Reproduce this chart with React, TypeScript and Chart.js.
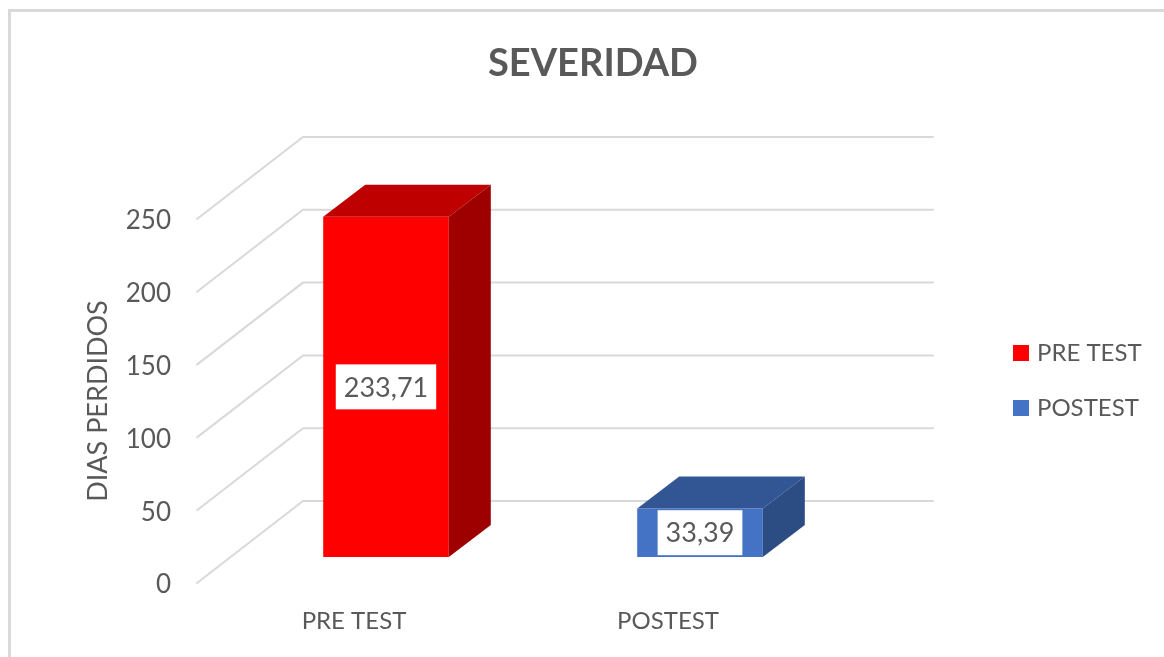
import React, { useEffect, useRef } from "react";
import { Chart, registerables } from "chart.js";

Chart.register(...registerables);

const categories = ["PRE TEST", "POSTEST"];
const seriesName = "SEVERIDAD";
const values = [233.71, 33.39];
const valueLabels = ["233,71", "33,39"];
const frontColors = ["#FF0000", "#4472C4"];
const topColors = ["#BF0000", "#325694"];
const sideColors = ["#9E0000", "#2C4C84"];

const FONT = "Lato, 'Open Sans', sans-serif";
const TEXT = "#595959";
const GRID = "#D9D9D9";
const WALL_DX = 106;
const WALL_DY = 82;
const BAR_SHIFT_X = 32;
const BAR_SHIFT_Y = -26;
const BAR_DX = 42;
const BAR_DY = 32;

const threeD = {
  id: "threeD",
  beforeLayout(chart: any) {
    const legend = chart.legend;
    if (legend && !legend.__wrapped) {
      const fit = legend.fit;
      legend.fit = function () {
        fit.call(this);
        this.width = 339;
      };
      legend.__wrapped = true;
    }
  },
  afterLayout(chart: any) {
    const legend = chart.legend;
    legend.left = 986;
    legend.right = 1164;
    legend.top = 310;
    legend.bottom = 640;
    const title = chart.titleBlock;
    title.left += 22;
  },
  beforeDraw(chart: any) {
    const { ctx } = chart;
    ctx.save();
    ctx.fillStyle = "#FFFFFF";
    ctx.fillRect(0, 0, chart.width, chart.height);
    ctx.strokeStyle = GRID;
    ctx.lineWidth = 3;
    ctx.beginPath();
    ctx.moveTo(9.5, chart.height);
    ctx.lineTo(9.5, 10.5);
    ctx.lineTo(chart.width, 10.5);
    ctx.stroke();
    ctx.restore();
  },
  beforeDatasetsDraw(chart: any) {
    const { ctx, chartArea, scales } = chart;
    ctx.save();
    ctx.strokeStyle = GRID;
    ctx.lineWidth = 2;
    ctx.lineCap = "round";
    for (const t of scales.y.ticks) {
      const y = scales.y.getPixelForValue(t.value);
      ctx.beginPath();
      ctx.moveTo(chartArea.left, y);
      ctx.lineTo(chartArea.left + WALL_DX, y - WALL_DY);
      ctx.lineTo(chartArea.right + WALL_DX + 2, y - WALL_DY);
      ctx.stroke();
    }
    ctx.restore();
    ctx.save();
    ctx.translate(BAR_SHIFT_X, BAR_SHIFT_Y);
  },
  afterDatasetsDraw(chart: any) {
    const { ctx } = chart;
    ctx.restore();
    const bars = chart.getDatasetMeta(0).data;
    bars.forEach((bar: any, i: number) => {
      const p = bar.getProps(["x", "y", "base", "width"], true);
      const l = p.x - p.width / 2 + BAR_SHIFT_X;
      const r = p.x + p.width / 2 + BAR_SHIFT_X;
      const t = p.y + BAR_SHIFT_Y;
      const b = p.base + BAR_SHIFT_Y;
      ctx.save();
      ctx.fillStyle = topColors[i];
      ctx.beginPath();
      ctx.moveTo(l, t);
      ctx.lineTo(l + BAR_DX, t - BAR_DY);
      ctx.lineTo(r + BAR_DX, t - BAR_DY);
      ctx.lineTo(r, t);
      ctx.closePath();
      ctx.fill();
      ctx.fillStyle = sideColors[i];
      ctx.beginPath();
      ctx.moveTo(r, t);
      ctx.lineTo(r + BAR_DX, t - BAR_DY);
      ctx.lineTo(r + BAR_DX, b - BAR_DY);
      ctx.lineTo(r, b);
      ctx.closePath();
      ctx.fill();

      ctx.font = `27px ${FONT}`;
      const label = valueLabels[i];
      const w = ctx.measureText(label).width + 16;
      const h = 45;
      const cx = (l + r) / 2;
      const cy = (t + b) / 2;
      ctx.fillStyle = "#FFFFFF";
      ctx.fillRect(cx - w / 2, cy - h / 2, w, h);
      ctx.fillStyle = TEXT;
      ctx.textAlign = "center";
      ctx.textBaseline = "middle";
      ctx.fillText(label, cx, cy + 1);
      ctx.restore();
    });
  },
};

export default function App() {
  const ref = useRef<HTMLCanvasElement>(null);
  useEffect(() => {
    const chart = new Chart(ref.current as HTMLCanvasElement, {
      type: "bar",
      data: {
        labels: categories,
        datasets: [
          {
            label: seriesName,
            data: values,
            backgroundColor: frontColors,
            barPercentage: 0.4,
            categoryPercentage: 1,
            clip: false,
          } as any,
        ],
      },
      plugins: [threeD as any],
      options: {
        animation: false,
        responsive: false,
        layout: { padding: 0 },
        plugins: {
          tooltip: { enabled: false },
          title: {
            display: true,
            text: "SEVERIDAD",
            color: TEXT,
            font: { family: FONT, size: 38, weight: "bold" },
            padding: { top: 41.2, bottom: 132.2 },
          },
          legend: {
            display: true,
            position: "right",
            align: "start",
            labels: {
              color: TEXT,
              font: { family: FONT, size: 24 },
              usePointStyle: true,
              boxWidth: 8,
              boxHeight: 16,
              padding: 31,
              generateLabels: () =>
                categories.map((c, i) => ({
                  text: c,
                  fillStyle: frontColors[i],
                  strokeStyle: frontColors[i],
                  fontColor: TEXT,
                  pointStyle: "rect",
                  lineWidth: 0,
                  hidden: false,
                  index: i,
                })),
            },
          },
        },
        scales: {
          x: {
            grid: { display: false },
            border: { display: false },
            afterFit: (s: any) => {
              s.height = 74;
            },
            ticks: {
              color: TEXT,
              padding: 16,
              maxRotation: 0,
              font: { family: FONT, size: 24 },
            },
          },
          y: {
            min: 0,
            max: 250,
            grid: { display: false },
            border: { display: false },
            afterFit: (s: any) => {
              s.width = 197;
            },
            ticks: {
              color: TEXT,
              stepSize: 50,
              padding: 18,
              labelOffset: 2,
              font: { family: FONT, size: 26 },
            },
            title: {
              display: true,
              text: "DIAS PERDIDOS",
              color: TEXT,
              padding: { top: 82, bottom: 0 },
              font: { family: FONT, size: 27 },
            },
          },
        },
      },
    } as any);
    return () => chart.destroy();
  }, []);
  return (
    <canvas
      ref={ref}
      width={1164}
      height={657}
      style={{ position: "fixed", left: 0, top: 0, display: "block" }}
    />
  );
}
